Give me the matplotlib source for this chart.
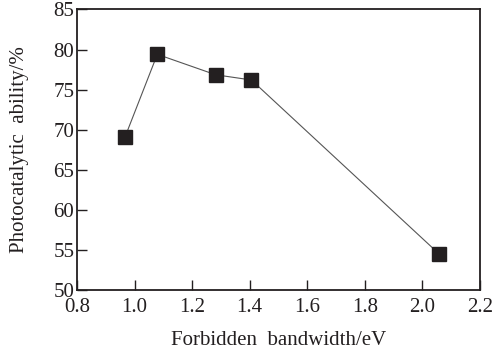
import matplotlib
matplotlib.use('Agg')
import matplotlib.pyplot as plt

bandwidth = [0.967, 1.079, 1.282, 1.406, 2.058]
ability = [69.1, 79.4, 76.85, 76.2, 54.5]

plt.rcParams['font.family'] = ['Liberation Serif', 'DejaVu Serif']

fig = plt.figure(figsize=(5.01, 3.5), dpi=100)
ax = fig.add_axes([0.1537, 0.1714, 0.958 - 0.1537, 0.973 - 0.1714])
ax.plot(bandwidth, ability, color='#555555', linewidth=0.8,
        marker='s', markersize=9.4, markerfacecolor='#231f20', markeredgecolor='#231f20')
ax.set_xlim(0.8, 2.2)
ax.set_ylim(50, 85)
ax.set_xticks([0.8, 1.0, 1.2, 1.4, 1.6, 1.8, 2.0, 2.2])
ax.set_yticks([50, 55, 60, 65, 70, 75, 80, 85])
ax.tick_params(direction='in', length=7, width=1, labelsize=15, colors='#231f20')
ax.tick_params(axis='x', pad=6)
ax.tick_params(axis='y', pad=2)
for s in ax.spines.values():
    s.set_linewidth(1.3)
    s.set_color('#231f20')
ax.set_xlabel('Forbidden  bandwidth/eV', fontsize=15, color='#231f20')
ax.set_ylabel('Photocatalytic  ability/%', fontsize=15, color='#231f20')
ax.xaxis.set_label_coords(0.5, -0.145)
ax.yaxis.set_label_coords(-0.118, 0.5)
fig.savefig('out.png', dpi=100)
